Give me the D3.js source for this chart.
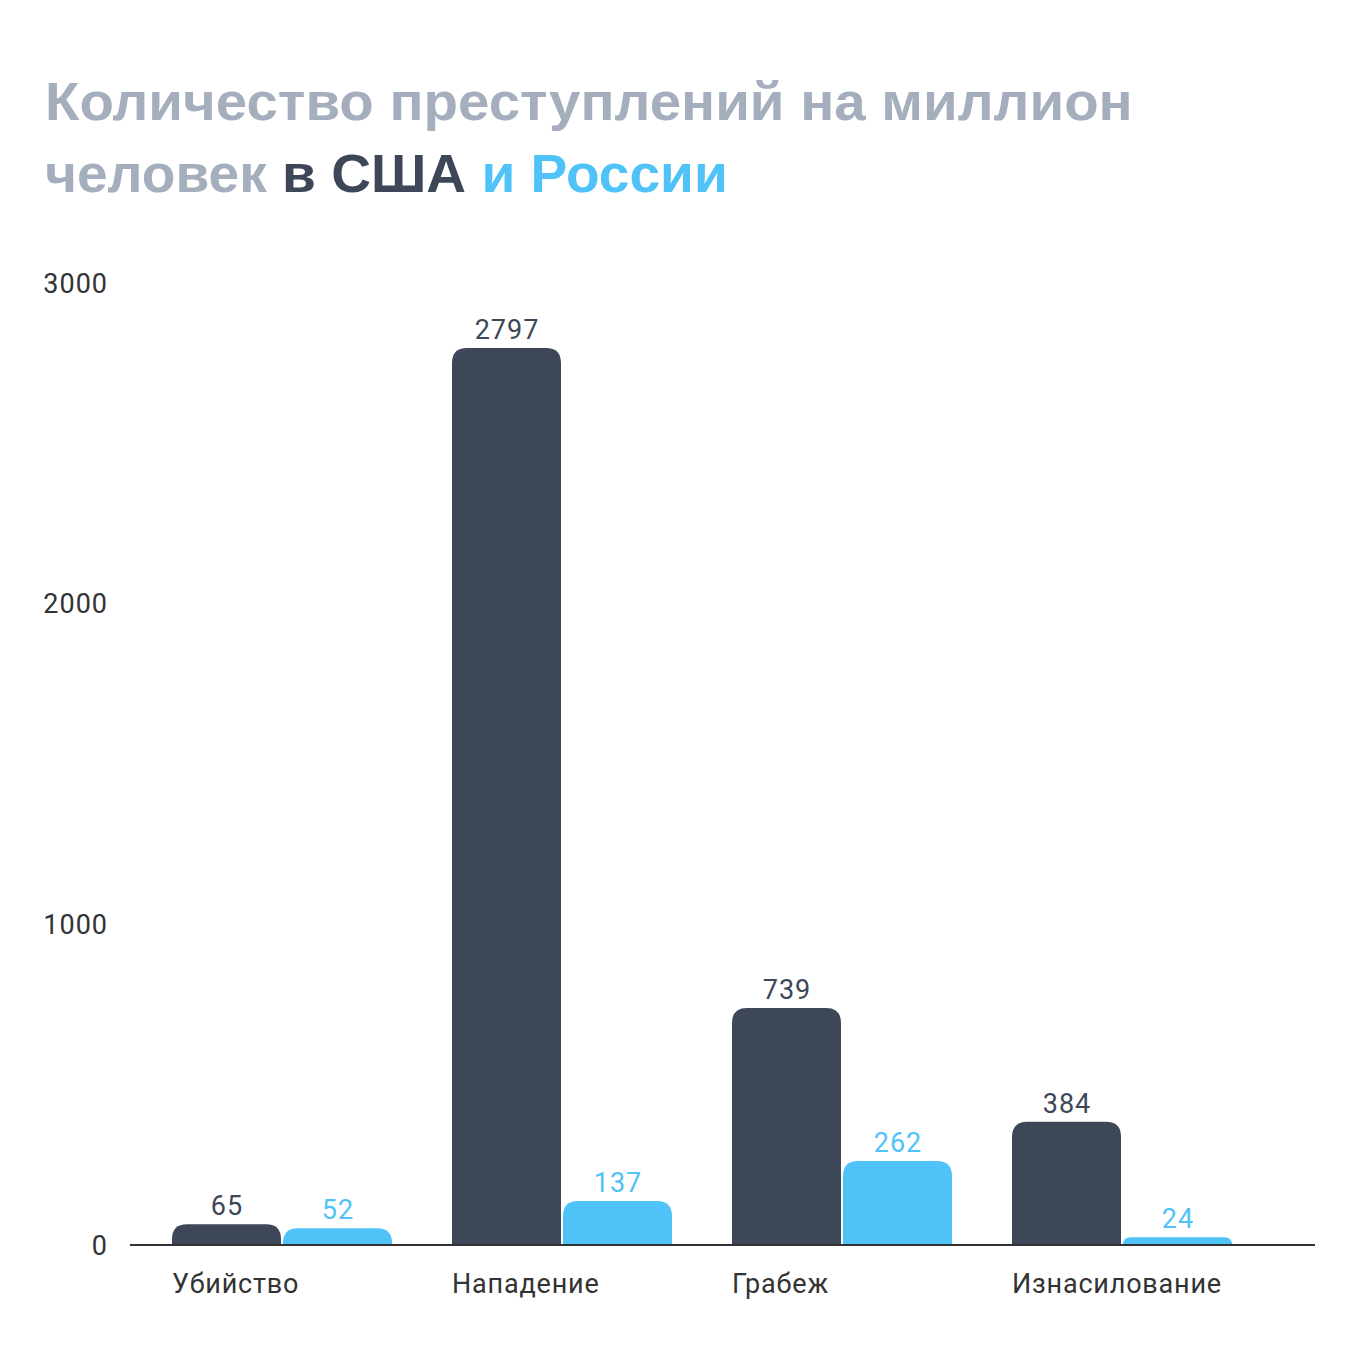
<!DOCTYPE html>
<html><head><meta charset="utf-8">
<script src="https://cdn.jsdelivr.net/npm/d3@7"></script>
<style>
html,body{margin:0;padding:0;background:#fff;}
svg{display:block;}
</style></head>
<body>
<svg id="chart" width="1360" height="1360"></svg>
<script>
const categories = ["Убийство", "Нападение", "Грабеж", "Изнасилование"];
const seriesNames = ["США", "Россия"];
const usaValues = [65, 2797, 739, 384];
const russiaValues = [52, 137, 262, 24];
const yTicks = [0, 1000, 2000, 3000];
const titleLine1 = "Количество преступлений на миллион";
const titleLine2 = [["человек ", "gray"], ["в США ", "dark"], ["и России", "blue"]];

const colors = {gray: "#a5aebc", dark: "#3d4757", blue: "#4fc3f7", axis: "#333333"};
const seriesColors = [colors.dark, colors.blue];

const svg = d3.select("#chart");
const titleFont = "'Liberation Sans', Arial, sans-serif";
const bodyFont = "Roboto, 'Noto Sans', sans-serif";

// Title
const t1 = svg.append("text").attr("x", 45).attr("y", 120)
  .attr("font-family", titleFont).attr("font-weight", 700).attr("font-size", 54)
  .attr("fill", colors.gray).text(titleLine1);
const t2 = svg.append("text").attr("x", 45).attr("y", 192)
  .attr("font-family", titleFont).attr("font-weight", 700).attr("font-size", 54);
titleLine2.forEach(([s, c]) => t2.append("tspan").attr("fill", colors[c]).text(s));
function fit(node, target) {
  const w = node.node().getComputedTextLength();
  if (w > 0) {
    const k = target / w;
    node.attr("transform", `translate(45,0) scale(${k},1) translate(-45,0)`);
  }
}
fit(t1, 1088);
fit(t2, 683);

// Scales
const y = d3.scaleLinear().domain([0, 3000]).range([1245, 283]);
const x0 = d3.scaleBand().domain(categories).range([172, 1232]).paddingInner(0.2143).paddingOuter(0);
const x1 = d3.scaleBand().domain(seriesNames).range([0, x0.bandwidth()]).paddingInner(0.018);

// Y tick labels
svg.append("g").selectAll("text").data(yTicks).join("text")
  .attr("x", 108).attr("y", d => y(d)).attr("dy", "0.36em")
  .attr("text-anchor", "end").attr("font-family", bodyFont).attr("font-size", 27)
  .attr("letter-spacing", 1)
  .attr("fill", colors.axis).text(d => d);

function topRounded(x, yTop, w, h, r) {
  r = Math.min(r, h, w / 2);
  return `M${x},${yTop + h}V${yTop + r}Q${x},${yTop} ${x + r},${yTop}H${x + w - r}Q${x + w},${yTop} ${x + w},${yTop + r}V${yTop + h}Z`;
}

const data = categories.map((c, i) => ({cat: c, vals: [usaValues[i], russiaValues[i]]}));
const groups = svg.append("g").selectAll("g").data(data).join("g")
  .attr("transform", d => `translate(${x0(d.cat)},0)`);

groups.selectAll("path").data(d => d.vals.map((v, j) => ({v, s: seriesNames[j], j}))).join("path")
  .attr("d", d => topRounded(x1(d.s), y(d.v), x1.bandwidth(), y(0) - y(d.v), 15))
  .attr("fill", d => seriesColors[d.j]);

groups.selectAll("text.val").data(d => d.vals.map((v, j) => ({v, s: seriesNames[j], j}))).join("text")
  .attr("class", "val")
  .attr("x", d => x1(d.s) + x1.bandwidth() / 2 + 0.5).attr("y", d => y(d.v) - 9)
  .attr("text-anchor", "middle").attr("font-family", bodyFont).attr("font-size", 27)
  .attr("letter-spacing", 1)
  .attr("fill", d => seriesColors[d.j]).text(d => d.v);

// Axis line
svg.append("line").attr("x1", 130).attr("x2", 1315).attr("y1", 1245).attr("y2", 1245)
  .attr("stroke", colors.axis).attr("stroke-width", 2);

// Category labels
svg.append("g").selectAll("text").data(categories).join("text")
  .attr("x", d => x0(d)).attr("y", 1293)
  .attr("font-family", bodyFont).attr("font-size", 27)
  .attr("letter-spacing", 0.8)
  .attr("fill", colors.axis).text(d => d);
</script>
</body></html>
